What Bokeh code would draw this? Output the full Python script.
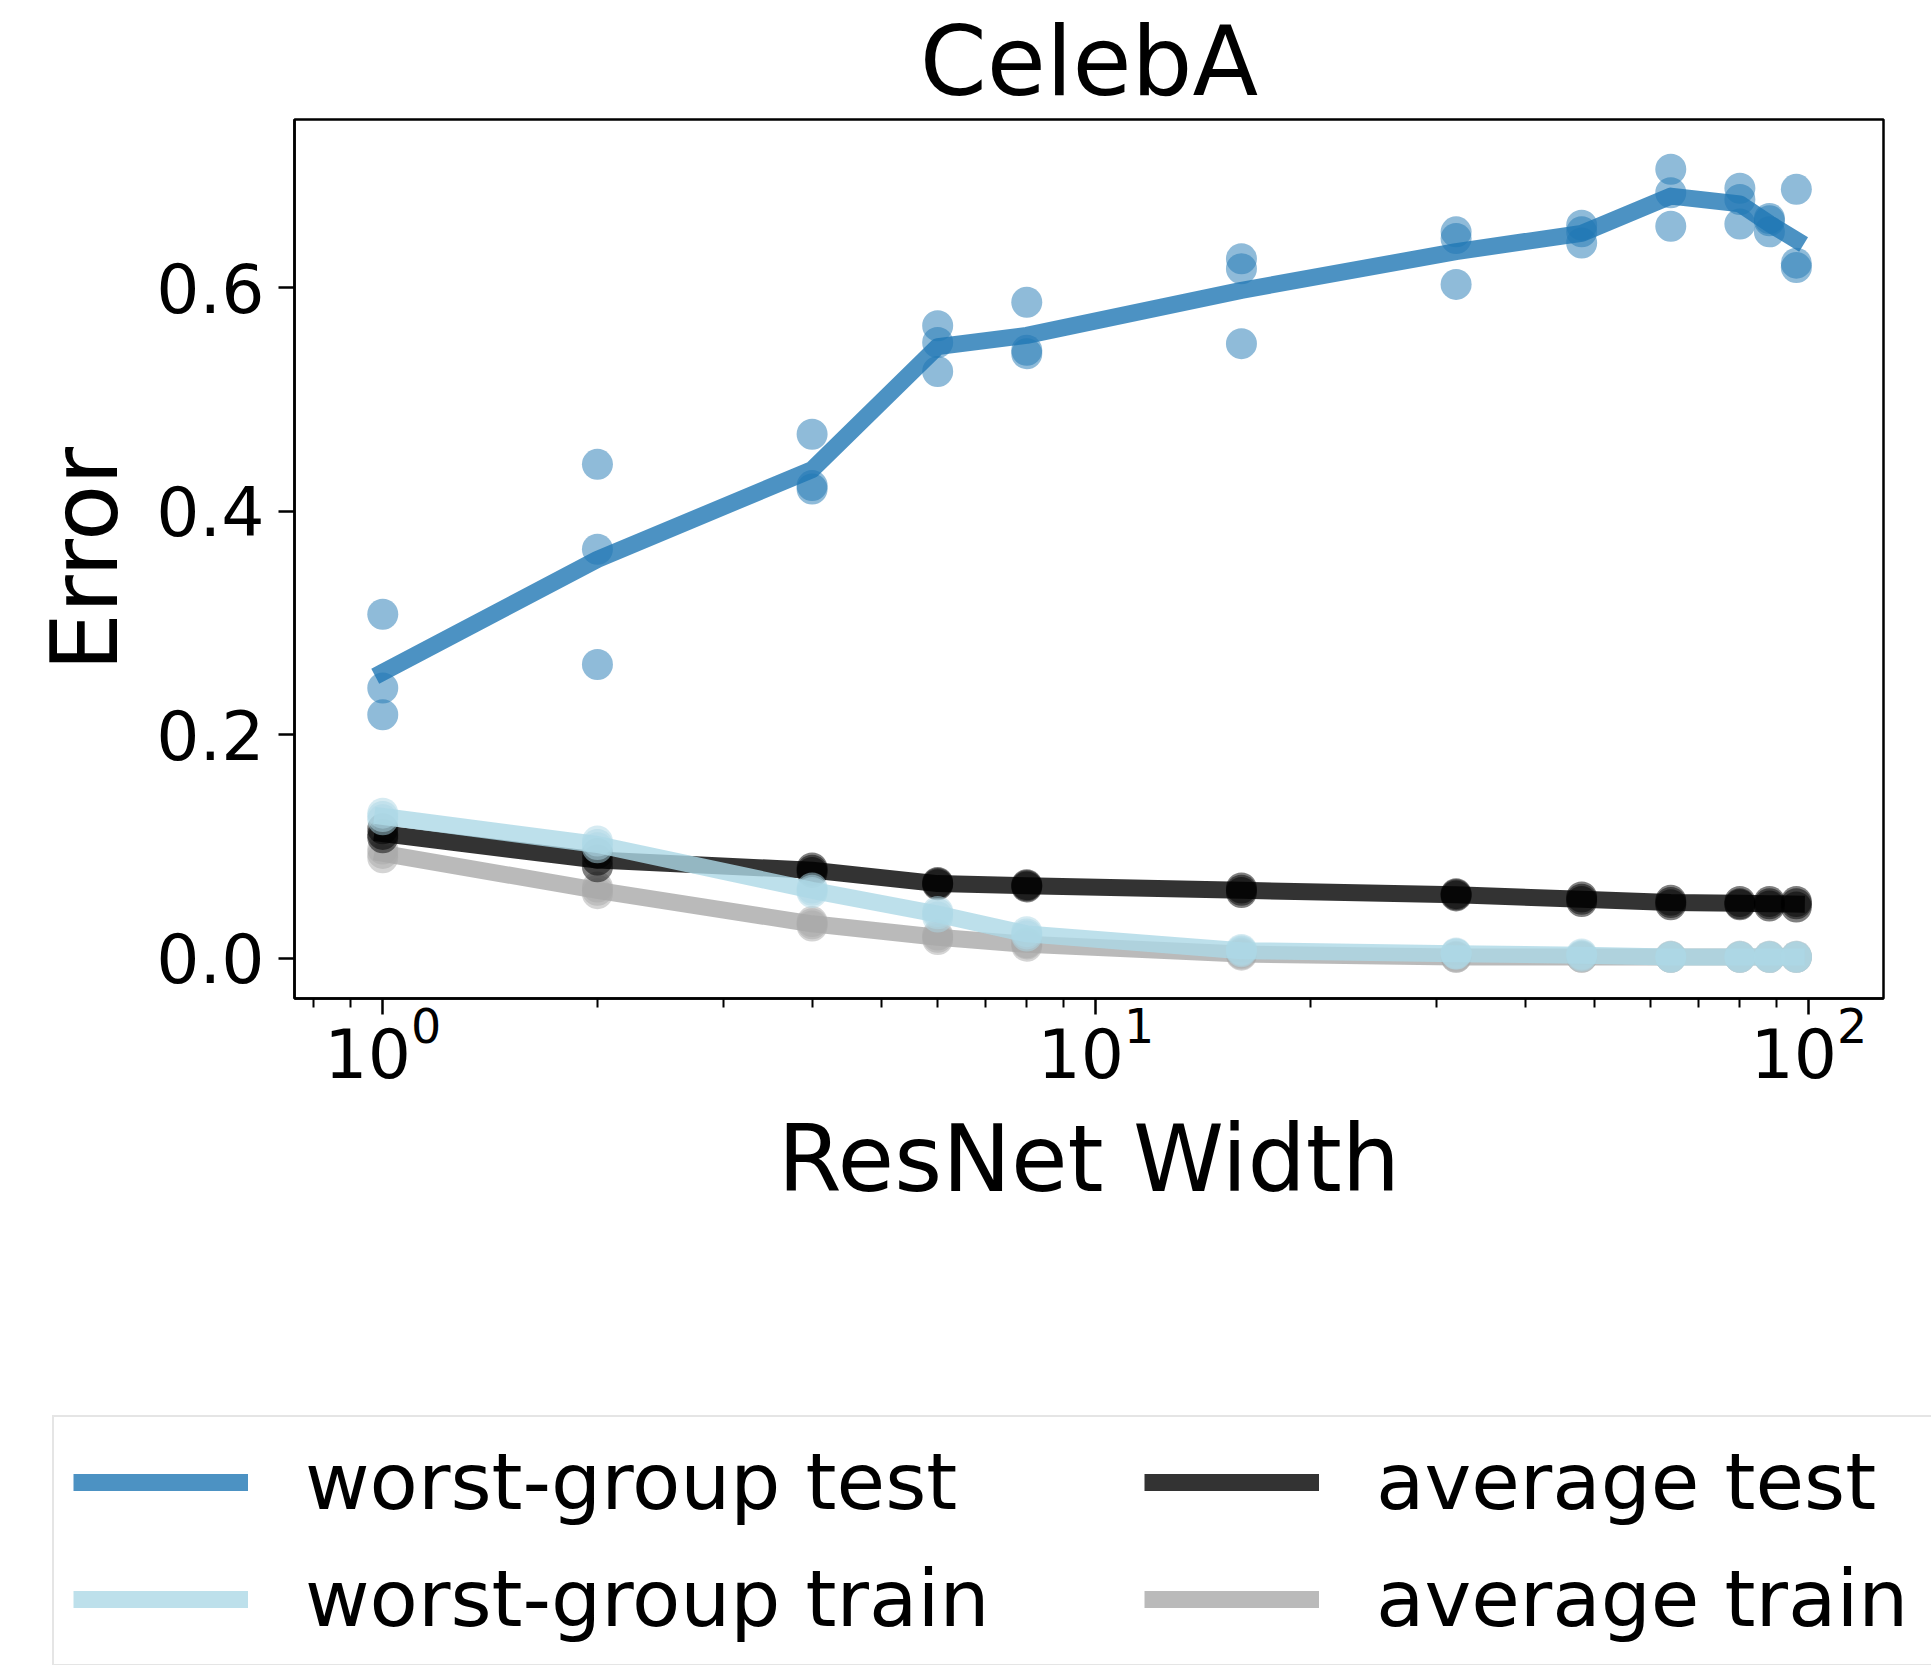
import numpy as np
from bokeh.plotting import figure
from bokeh.layouts import column
from bokeh.models import (Range1d, FixedTicker, LogTickFormatter, PrintfTickFormatter,
                          Legend, LegendItem)
from bokeh.embed import file_html
from bokeh.resources import INLINE

# ResNet widths (x axis)
widths = [1, 2, 4, 6, 8, 16, 32, 48, 64, 80, 88, 96]

# error per width, three seeds each
worst_group_test = [
    [0.308, 0.242, 0.218], [0.442, 0.366, 0.263], [0.469, 0.423, 0.420],
    [0.566, 0.551, 0.525], [0.587, 0.544, 0.541], [0.626, 0.617, 0.550],
    [0.650, 0.644, 0.603], [0.656, 0.650, 0.640], [0.706, 0.685, 0.655],
    [0.689, 0.679, 0.657], [0.662, 0.660, 0.650], [0.688, 0.622, 0.618],
]
worst_group_train = [
    [0.130, 0.127, 0.124], [0.105, 0.102, 0.099], [0.063, 0.061, 0.059],
    [0.042, 0.040, 0.037], [0.024, 0.022, 0.020], [0.008, 0.007, 0.006],
    [0.005, 0.004, 0.004], [0.004, 0.003, 0.002], [0.002, 0.001, 0.001],
    [0.002, 0.001, 0.001], [0.002, 0.001, 0.001], [0.002, 0.001, 0.001],
]
average_test = [
    [0.116, 0.111, 0.108], [0.094, 0.088, 0.082], [0.081, 0.079, 0.077],
    [0.068, 0.067, 0.066], [0.066, 0.065, 0.064], [0.063, 0.061, 0.059],
    [0.058, 0.057, 0.056], [0.055, 0.053, 0.051], [0.052, 0.050, 0.048],
    [0.051, 0.049, 0.048], [0.051, 0.049, 0.047], [0.051, 0.049, 0.046],
]
average_train = [
    [0.098, 0.094, 0.090], [0.064, 0.061, 0.058], [0.033, 0.031, 0.029],
    [0.021, 0.019, 0.017], [0.014, 0.013, 0.011], [0.005, 0.004, 0.003],
    [0.002, 0.001, 0.001], [0.002, 0.001, 0.001], [0.002, 0.001, 0.001],
    [0.002, 0.001, 0.001], [0.002, 0.001, 0.001], [0.002, 0.001, 0.001],
]

y_ticks = [0.0, 0.2, 0.4, 0.6]
x_ticks = [1, 10, 100]
x_minor_ticks = [0.8, 0.9, 2, 3, 4, 5, 6, 7, 8, 9, 20, 30, 40, 50, 60, 70, 80, 90]

FONT = "DejaVu Sans"
LINE_W = 17

p = figure(
    width=1931, height=1400,
    x_axis_type="log",
    x_range=Range1d(0.752, 127.2),
    y_range=Range1d(-0.0358, 0.7505),
    output_backend="svg", toolbar_location=None,
    min_border_left=294, min_border_right=48,
    min_border_top=119, min_border_bottom=402,
    title="CelebA",
)
p.frame_align = False
p.background_fill_color = "white"
p.border_fill_color = "white"
p.grid.visible = False
p.outline_line_color = "black"
p.outline_line_width = 2.5

p.title.text_font = FONT
p.title.text_font_size = "96px"
p.title.text_font_style = "normal"
p.title.text_color = "black"
p.title.align = "center"
p.title.standoff = 3

for ax in (p.xaxis[0], p.yaxis[0]):
    ax.axis_line_width = 2.5
    ax.major_tick_line_width = 2.5
    ax.minor_tick_line_width = 2
    ax.major_tick_in = 0
    ax.major_tick_out = 16
    ax.minor_tick_in = 0
    ax.minor_tick_out = 9
    ax.major_label_text_font = FONT
    ax.major_label_text_font_size = "68px"
    ax.major_label_text_color = "black"
    ax.axis_label_text_font = FONT
    ax.axis_label_text_font_size = "92px"
    ax.axis_label_text_font_style = "normal"
    ax.axis_label_text_color = "black"

p.xaxis.ticker = FixedTicker(ticks=x_ticks, minor_ticks=x_minor_ticks)
p.xaxis.formatter = LogTickFormatter()
p.xaxis.axis_label = "ResNet Width"
p.xaxis.major_label_standoff = -10
p.xaxis.axis_label_standoff = 25

p.yaxis.ticker = FixedTicker(ticks=y_ticks)
p.yaxis.formatter = PrintfTickFormatter(format="%.1f")
p.yaxis.axis_label = "Error"
p.yaxis.major_label_standoff = 14
p.yaxis.axis_label_standoff = 14

series = [
    ("average train", average_train, "#a9a9a9"),
    ("average test", average_test, "#000000"),
    ("worst-group train", worst_group_train, "#add8e6"),
    ("worst-group test", worst_group_test, "#1f77b4"),
]
colors = {name: color for name, _, color in series}

for name, runs, color in series:
    runs = np.asarray(runs)
    xs = np.repeat(widths, runs.shape[1])
    p.scatter(xs, runs.ravel(), size=31, fill_color=color, fill_alpha=0.5,
              line_color=None)
    p.line(widths, runs.mean(axis=1), line_width=LINE_W, line_color=color,
           line_alpha=0.8, line_cap="square", line_join="round")

# legend strip underneath the axes
leg = figure(
    width=1931, height=265,
    x_range=Range1d(0, 1), y_range=Range1d(0, 1),
    output_backend="svg", toolbar_location=None,
    min_border=0, min_border_left=0, min_border_right=0,
    min_border_top=0, min_border_bottom=0,
    x_axis_location=None, y_axis_location=None,
)
leg.frame_align = False
leg.grid.visible = False
leg.outline_line_color = None
leg.background_fill_color = "white"
leg.border_fill_color = "white"

legend_order = ["worst-group test", "worst-group train", "average test", "average train"]
items = []
for name in legend_order:
    # style-only proxy renderer for the legend swatch
    r = leg.line([np.nan, np.nan], [np.nan, np.nan], line_width=LINE_W,
                 line_color=colors[name], line_alpha=0.8)
    items.append(LegendItem(label=name, renderers=[r]))

legend = Legend(
    items=items,
    location=(52, -1),
    orientation="vertical", nrows=2,
    glyph_width=175, glyph_height=92,
    label_height=92, label_width=814, label_standoff=57,
    padding=19, spacing=25, margin=0,
    label_text_font=FONT, label_text_font_size="79px", label_text_color="black",
    border_line_color="#cccccc", border_line_width=2,
    background_fill_color="white", background_fill_alpha=1.0,
)
leg.add_layout(legend, "center")

layout = column(p, leg, spacing=0)
open("out.html", "w").write(file_html(layout, INLINE))
